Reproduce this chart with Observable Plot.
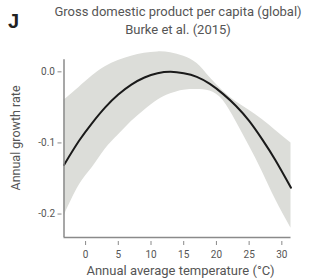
<!DOCTYPE html>
<html>
<head>
<meta charset="utf-8">
<script src="https://cdn.jsdelivr.net/npm/d3@7"></script>
<script src="https://cdn.jsdelivr.net/npm/@observablehq/plot@0.6"></script>
<style>
  html, body { margin: 0; padding: 0; background: #fff; }
  #wrap { position: relative; width: 309px; height: 280px; font-family: "Roboto", sans-serif; }
  #letter { position: absolute; left: 8px; top: 10px; font: bold 20px "Liberation Sans", Arial, sans-serif; color: #222; }
  #title { position: absolute; left: 48px; width: 260px; top: 3px; text-align: center; color: #555; font-size: 13px; line-height: 18px; }
  #chart { position: absolute; left: 0; top: 42px; }
</style>
</head>
<body>
<div id="wrap">
  <div id="letter">J</div>
  <div id="title">Gross domestic product per capita (global)<br>Burke et al. (2015)</div>
  <div id="chart"></div>
</div>
<script>
const temps = [-3.3, -1, 1, 3, 5, 7, 9, 11, 13, 15, 17, 19, 21, 23, 25, 27, 29, 31.4];
// Central estimate of annual growth rate
const growth = [-0.131, -0.097, -0.072, -0.05, -0.032, -0.018, -0.008, -0.002, 0.0, -0.002, -0.007, -0.017, -0.031, -0.048, -0.069, -0.095, -0.124, -0.163];
// Upper and lower edge of the confidence band
const upper = [-0.04, -0.022, -0.006, 0.007, 0.016, 0.022, 0.026, 0.028, 0.027, 0.022, 0.012, -0.008, -0.027, -0.042, -0.054, -0.067, -0.082, -0.1];
const lower = [-0.203, -0.16, -0.135, -0.109, -0.089, -0.07, -0.054, -0.04, -0.031, -0.026, -0.025, -0.027, -0.04, -0.07, -0.104, -0.14, -0.179, -0.22];
// Axis ticks
const xTicks = [0, 5, 10, 15, 20, 25, 30];
const yTicks = [0, -0.1, -0.2];

const xDomain = [-3.3, 31.4];
const yDomain = [-0.233, 0.03];

const rows = temps.map((t, i) => ({t, g: growth[i], hi: upper[i], lo: lower[i]}));

const axisColor = "#8a8a8a";
const textColor = "#555";

const chart = Plot.plot({
  width: 309,
  height: 238,
  marginLeft: 63.5,
  marginRight: 18.5,
  marginTop: 8,
  marginBottom: 43,
  style: {fontFamily: '"Roboto", sans-serif', color: textColor, background: "transparent"},
  x: {domain: xDomain, axis: null},
  y: {domain: yDomain, axis: null},
  marks: [
    Plot.areaY(rows, {x: "t", y1: "lo", y2: "hi", fill: "#dcddd9", curve: "natural"}),
    Plot.line(rows, {x: "t", y: "g", stroke: "#1a1a1a", strokeWidth: 2, curve: "natural"}),
    // axis lines
    Plot.ruleX([xDomain[0]], {y1: yDomain[0], y2: 0.017, stroke: axisColor, strokeWidth: 1.5}),
    Plot.ruleY([yDomain[0]], {x1: xDomain[0], x2: xDomain[1], stroke: axisColor, strokeWidth: 1.5}),
    // x ticks (offset below the axis line)
    Plot.axisX({ticks: xTicks, tickSize: 4, tickPadding: 5, dy: 4, fontSize: 10, stroke: axisColor, color: textColor, label: null, tickFormat: d => String(d)}),
    // y ticks
    Plot.axisY({ticks: yTicks, tickSize: 4, tickPadding: 3, dx: -2, fontSize: 10, stroke: axisColor, color: textColor, label: null, tickFormat: d => d.toFixed(1)}),
    // axis titles
    Plot.text(["Annual average temperature (°C)"], {frameAnchor: "bottom", textAnchor: "middle", dy: 37.5, dx: 3, fontSize: 13, fill: textColor, lineAnchor: "bottom"}),
    Plot.text(["Annual growth rate"], {frameAnchor: "left", textAnchor: "middle", rotate: -90, dx: -48, dy: -6, fontSize: 12.5, fill: textColor})
  ]
});
document.getElementById("chart").appendChild(chart);
</script>
</body>
</html>
